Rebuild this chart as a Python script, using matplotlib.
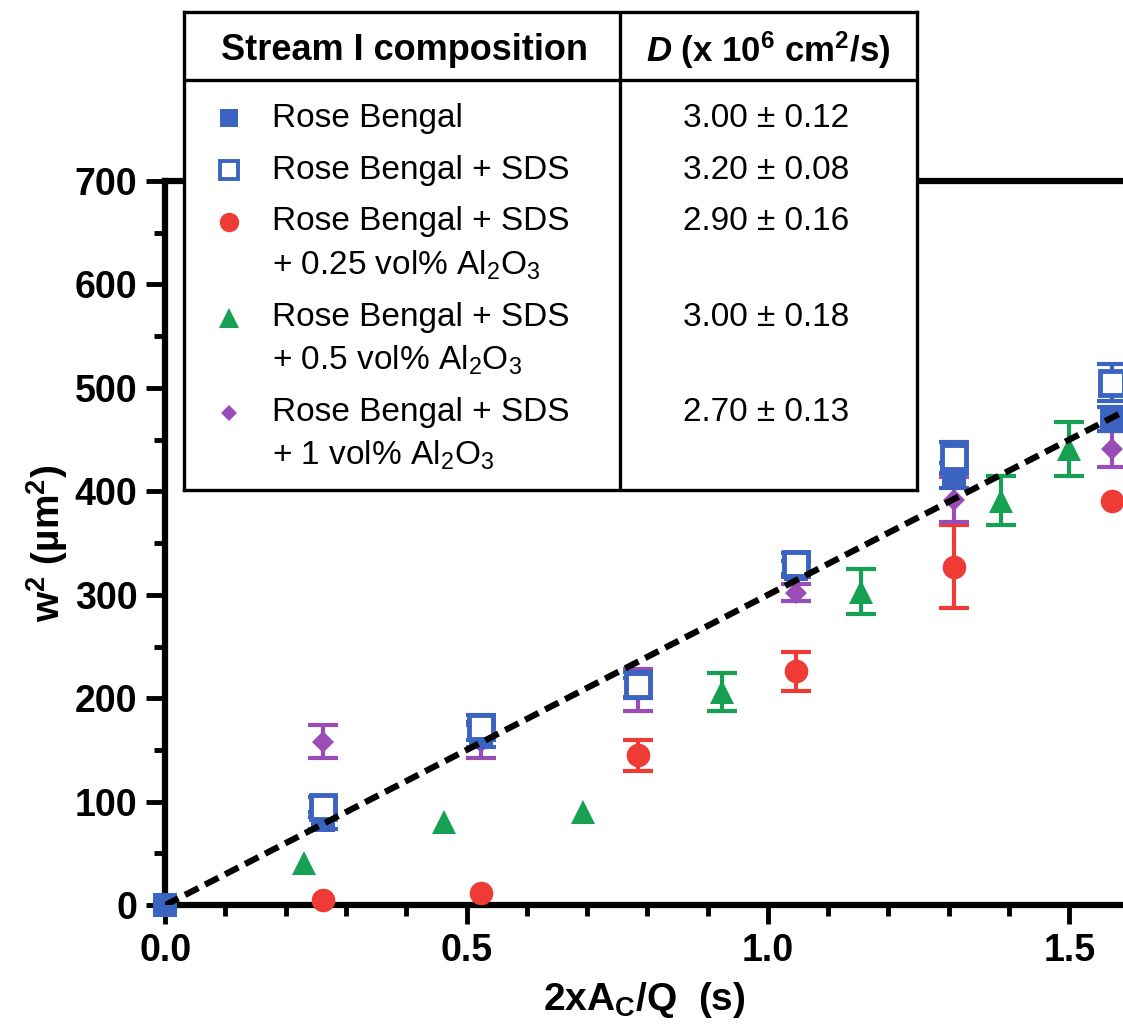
import matplotlib
matplotlib.use('Agg')
import matplotlib.pyplot as plt
import numpy as np

#******************************* Fuentes *****************************************
plt.rcParams['font.family'] = ['Liberation Sans', 'DejaVu Sans']
plt.rcParams['mathtext.fontset'] = 'custom'
plt.rcParams['mathtext.default'] = 'regular'
plt.rcParams['mathtext.rm'] = 'Liberation Sans'
plt.rcParams['mathtext.it'] = 'Liberation Sans:italic:bold'
plt.rcParams['mathtext.bf'] = 'Liberation Sans:bold'

#******************************* Datos *****************************************
# Rose Bengal (cuadrado lleno)
x_rb = [0.0, 0.262, 0.524, 0.785, 1.047, 1.309, 1.571]
y_rb = [0, 82, 165, 210, 325, 415, 470]
e_rb = [0, 8, 12, 10, 8, 12, 12]

# Rose Bengal + SDS (cuadrado abierto)
x_sds = [0.262, 0.524, 0.785, 1.047, 1.309, 1.571]
y_sds = [95, 172, 213, 330, 433, 505]
e_sds = [10, 12, 12, 10, 15, 18]

# + 0.25 vol% Al2O3 (circulo)
x_025 = [0.262, 0.524, 0.785, 1.047, 1.309, 1.571]
y_025 = [5, 12, 145, 226, 327, 391]
e_025 = [0, 0, 15, 19, 40, 0]

# + 0.5 vol% Al2O3 (triangulo)
x_05 = [0.231, 0.462, 0.693, 0.924, 1.155, 1.386, 1.50]
y_05 = [41, 80, 90, 206, 303, 391, 441]
e_05 = [0, 0, 0, 18, 22, 24, 26]

# + 1 vol% Al2O3 (diamante)
x_1 = [0.262, 0.524, 0.785, 1.047, 1.309, 1.571]
y_1 = [158, 158, 208, 302, 392, 441]
e_1 = [16, 16, 20, 8, 22, 17]

# Tabla
label_lines = [
    ['Rose Bengal'],
    ['Rose Bengal + SDS'],
    ['Rose Bengal + SDS', '+ 0.25 vol% Al$_2$O$_3$'],
    ['Rose Bengal + SDS', '+ 0.5 vol% Al$_2$O$_3$'],
    ['Rose Bengal + SDS', '+ 1 vol% Al$_2$O$_3$'],
]
d_values = [3.00, 3.20, 2.90, 3.00, 2.70]
d_errors = [0.12, 0.08, 0.16, 0.18, 0.13]

blue = '#3a64c0'
red = '#ef3b36'
green = '#16a052'
purple = '#9a4db6'

# (x, y, err, marker, size, color, fill, zorder, legend size)
series = [
    (x_rb, y_rb, e_rb, 's', 17, blue, blue, 3.6, 13),
    (x_sds, y_sds, e_sds, 's', 17, blue, 'white', 3.8, 13),
    (x_025, y_025, e_025, 'o', 17, red, red, 3.0, 14),
    (x_05, y_05, e_05, '^', 17, green, green, 3.2, 14),
    (x_1, y_1, e_1, 'D', 11, purple, purple, 3.4, 8),
]

#******************************* Grafica *****************************************
fig = plt.figure(figsize=(11.23, 10.31), dpi=100)
ax = fig.add_axes([0.147, 0.122, 0.853, 0.7025])

for x, y, e, mk, ms, c, fc, z, _ in series:
    x, y, e = np.array(x), np.array(y), np.array(e)
    m = e > 0
    ax.errorbar(x[m], y[m], yerr=e[m], fmt='none', ecolor=c, elinewidth=3,
                capsize=11, capthick=3, clip_on=False, zorder=z)
    ax.plot(x, y, mk, ms=ms, color=c, mfc=fc, mec=c, mew=3.5 if fc == 'white' else 0,
            ls='none', clip_on=False, zorder=z + 0.05)

# ajuste lineal con D = 3.00 (x 10^-6 cm^2/s) -> 300 um^2/s
xf = np.array([0.0, 1.7])
ax.plot(xf, d_values[0] * 100 * xf, color='black', lw=4.5, ls=(0, (2.4, 1.2)), zorder=5)

ax.set_xlim(0, 1.589)
ax.set_ylim(0, 700)
ax.set_xticks([0.0, 0.5, 1.0, 1.5])
ax.set_xticklabels(['0.0', '0.5', '1.0', '1.5'])
ax.set_xticks(np.arange(0, 1.59, 0.1), minor=True)
ax.set_yticks(np.arange(0, 701, 100))
ax.set_yticks(np.arange(0, 701, 50), minor=True)
ax.spines['right'].set_visible(False)
for s in ['left', 'bottom', 'top']:
    ax.spines[s].set_linewidth(4.5)
ax.tick_params(which='major', direction='out', length=14, width=3.5, labelsize=27, pad=6)
ax.tick_params(which='minor', direction='out', length=8, width=3.5)
ax.tick_params(top=False, right=False, which='both')
for lab in ax.get_xticklabels() + ax.get_yticklabels():
    lab.set_fontweight('bold')

ax.set_xlabel('2xA$_C$/Q  (s)', fontsize=28, fontweight='bold', labelpad=8)
ax.set_ylabel('w$^2$ (µm$^2$)', fontsize=28, fontweight='bold', labelpad=3)

#******************************* Tabla *****************************************
tab = fig.add_axes([0.164, 0.525, 0.653, 0.463], zorder=6)
tab.set_xlim(0, 1)
tab.set_ylim(0, 1)
tab.set_xticks([])
tab.set_yticks([])
tab.set_facecolor('white')
for s in tab.spines.values():
    s.set_linewidth(2.4)
tab.plot([0.595, 0.595], [0, 1], color='black', lw=2.4)
tab.plot([0, 1], [0.858, 0.858], color='black', lw=2.4)

tab.text(0.30, 0.921, 'Stream I composition', fontsize=26, fontweight='bold',
         ha='center', va='center')
tab.text(0.797, 0.921, r'$\mathit{D}$ (x 10$^6$ cm$^2$/s)', fontsize=25, fontweight='bold',
         ha='center', va='center')

row_y = [[0.778], [0.669], [0.561, 0.471], [0.360, 0.272], [0.161, 0.073]]
for i, (x, y, e, mk, ms, c, fc, z, lms) in enumerate(series):
    tab.plot([0.061], [row_y[i][0]], mk, ms=lms, color=c, mfc=fc, mec=c,
             mew=2.8 if fc == 'white' else 0)
    for j, line in enumerate(label_lines[i]):
        tab.text(0.12, row_y[i][j], line, fontsize=24, ha='left', va='center')
    tab.text(0.793, row_y[i][0], '%.2f ± %.2f' % (d_values[i], d_errors[i]),
             fontsize=24, ha='center', va='center')

fig.savefig('out.png', dpi=100)
